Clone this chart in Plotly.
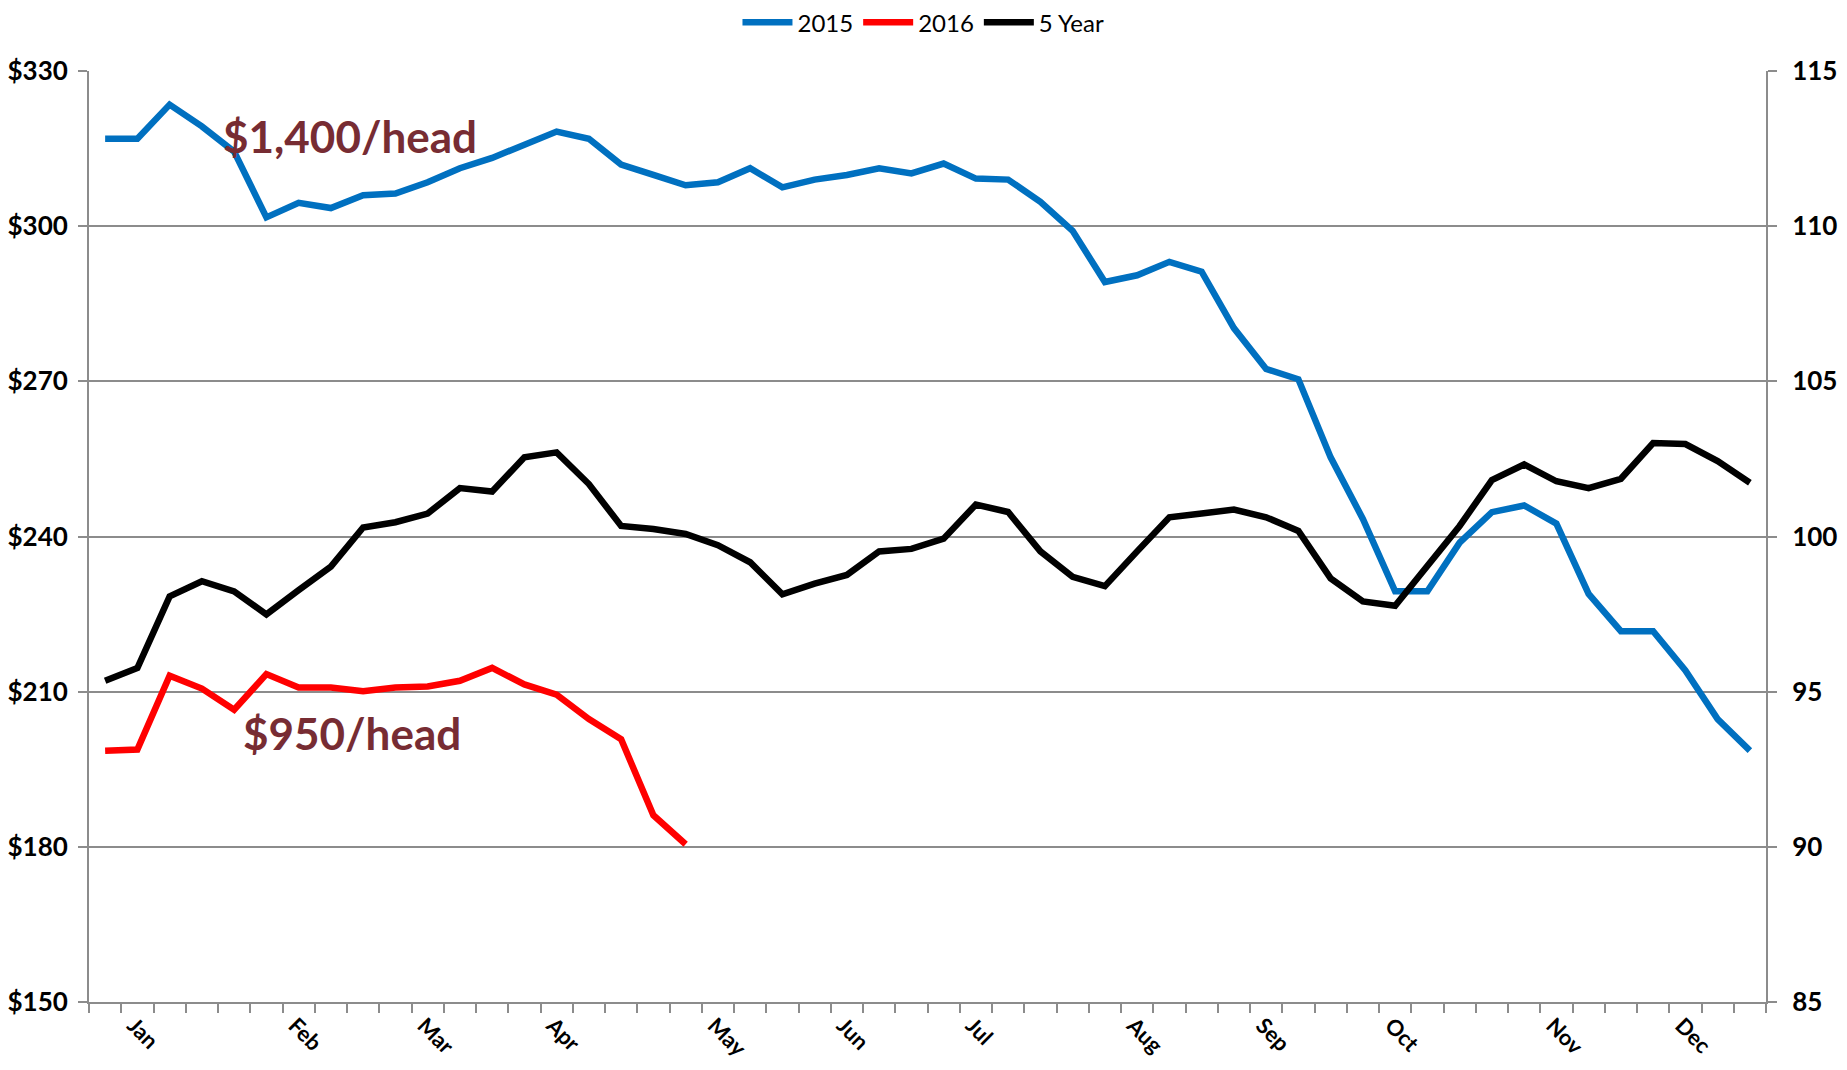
import plotly.graph_objects as go

weeks = list(range(52))

price_2015 = [316.9, 316.9, 323.5, 319.3, 314.4, 301.7, 304.5, 303.5, 306.0, 306.3,
              308.5, 311.2, 313.2, 315.6, 318.3, 316.9, 311.9, 309.9, 307.9, 308.5,
              311.2, 307.5, 309.0, 309.9, 311.2, 310.2, 312.1, 309.2, 309.0, 304.7,
              299.1, 289.2, 290.5, 293.1, 291.2, 280.3, 272.4, 270.4, 255.3, 243.4,
              229.4, 229.4, 238.8, 244.7, 246.0, 242.5, 228.9, 221.7, 221.7, 214.1,
              204.7, 198.6]

price_2016 = [198.6, 198.8, 213.1, 210.6, 206.5, 213.4, 210.8, 210.8, 210.1, 210.8,
              211.0, 212.1, 214.6, 211.4, 209.4, 204.7, 200.8, 186.1, 180.5]

five_year = [95.35, 95.76, 98.07, 98.56, 98.23, 97.49, 98.27, 99.03, 100.29, 100.46,
             100.74, 101.56, 101.45, 102.55, 102.71, 101.69, 100.34, 100.24, 100.08, 99.72,
             99.17, 98.14, 98.48, 98.76, 99.52, 99.60, 99.93, 101.03, 100.79, 99.52,
             98.70, 98.40, 99.52, 100.62, 100.74, 100.87, 100.62, 100.18, 98.65, 97.91,
             97.77, 99.06, 100.34, 101.82, 102.32, 101.78, 101.56, 101.86, 103.01, 102.98,
             102.43, 101.73]

month_weeks = [1, 6, 10, 14, 19, 23, 27, 32, 36, 40, 45, 49]
month_labels = ["Jan", "Feb", "Mar", "Apr", "May", "Jun",
                "Jul", "Aug", "Sep", "Oct", "Nov", "Dec"]

left_ticks = [150, 180, 210, 240, 270, 300, 330]
right_ticks = [85, 90, 95, 100, 105, 110, 115]

GRID = "#8c8c8c"
FONT = "Lato"

fig = go.Figure()
fig.add_trace(go.Scatter(x=weeks, y=price_2015, mode="lines", name="2015",
                         line=dict(color="#0070C0", width=6.5), yaxis="y"))
fig.add_trace(go.Scatter(x=weeks[:len(price_2016)], y=price_2016, mode="lines", name="2016",
                         line=dict(color="#FF0000", width=6.5), yaxis="y"))
fig.add_trace(go.Scatter(x=weeks, y=five_year, mode="lines", name="5 Year",
                         line=dict(color="#000000", width=6.5), yaxis="y2"))

fig.add_annotation(x=7.6, y=317.5, xref="x", yref="y", text="<b>$1,400/head</b>",
                   showarrow=False, font=dict(family=FONT, size=44, color="#772C33"))
fig.add_annotation(x=7.65, y=202.0, xref="x", yref="y", text="<b>$950/head</b>",
                   showarrow=False, font=dict(family=FONT, size=44, color="#772C33"))

fig.update_layout(
    width=1847, height=1070,
    margin=dict(l=81, r=89, t=63, b=76, autoexpand=False),
    paper_bgcolor="white", plot_bgcolor="white",
    font=dict(family=FONT, color="black"),
    showlegend=True,
    legend=dict(orientation="h", x=0.4976, xanchor="center", y=1.052, yanchor="middle",
                font=dict(family=FONT, size=24, color="black"),
                bgcolor="rgba(0,0,0,0)", itemwidth=50, tracegroupgap=10),
    xaxis=dict(range=[-0.5, 51.5], tickmode="array",
               tickvals=[m - 0.12 for m in month_weeks],
               ticktext=["<b>%s</b>" % m for m in month_labels],
               tickangle=45, ticks="", ticklen=0, automargin=False,
               tickfont=dict(family=FONT, size=22, color="black"),
               showgrid=False, zeroline=False,
               showline=True, linecolor=GRID, linewidth=2,
               minor=dict(tickmode="linear", tick0=-0.5, dtick=1, ticks="outside",
                          ticklen=9, tickcolor=GRID, tickwidth=1.5, showgrid=False)),
    yaxis=dict(range=[150, 330], tickmode="array", tickvals=left_ticks,
               ticktext=["<b>$%d</b>" % v for v in left_ticks],
               ticks="outside", ticklen=9, tickcolor=GRID, tickwidth=2, automargin=False,
               ticklabelstandoff=5,
               tickfont=dict(family=FONT, size=26, color="black"),
               showgrid=True, gridcolor=GRID, gridwidth=2, zeroline=False,
               showline=True, linecolor=GRID, linewidth=2),
    yaxis2=dict(range=[85, 115], tickmode="array", tickvals=right_ticks,
                ticktext=["<b>%d</b>" % v for v in right_ticks],
                overlaying="y", side="right", automargin=False,
                ticks="outside", ticklen=9, tickcolor=GRID, tickwidth=2,
                ticklabelstandoff=10,
                tickfont=dict(family=FONT, size=26, color="black"),
                showgrid=False, zeroline=False,
                showline=True, linecolor=GRID, linewidth=2),
)

fig.write_html("out.html")
